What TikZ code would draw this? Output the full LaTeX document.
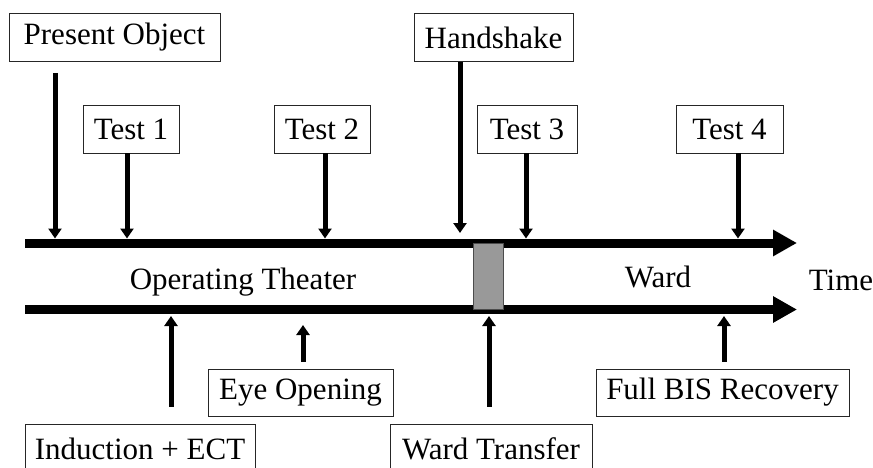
\documentclass[tikz,border=0pt]{standalone}
\usepackage{fontspec}
\setmainfont{Liberation Serif}
\usetikzlibrary{arrows.meta}
\begin{document}
\begin{tikzpicture}[x=1pt,y=-1pt,
  lbl/.style={draw=black!85,line width=0.9pt,fill=white,inner sep=0pt,
    minimum height=48pt,font=\fontsize{31}{36}\selectfont,anchor=center},
  txt/.style={inner sep=0pt,font=\fontsize{31}{36}\selectfont},
  bar/.style={line width=9pt,-{Triangle[length=24pt,width=25pt]}},
  arr/.style={line width=5pt,-{Triangle[length=10pt,width=13pt]}}]
\useasboundingbox (0,0) rectangle (873,468);
\begin{scope}
\clip (0,0) rectangle (873,468);
% timelines
\coordinate (as) at (25,243);
\coordinate (ae) at (797,243);
\coordinate (bs) at (25,309.5);
\coordinate (be) at (797,309.5);
\draw[bar] (as) -- (ae);
\draw[bar] (bs) -- (be);
\node[draw=black!70,line width=0.9pt,fill=black!40,minimum width=30pt,minimum height=66pt,inner sep=0pt] (gray) at (488,276) {};
% labels
\node[txt] (ot) at (243,282) {Operating Theater};
\node[txt] (ward) at (658,277) {Ward};
\node[txt] (time) at (841,280) {Time};
% top boxes
\node[lbl,minimum width=211pt] (po) at (114.5,37.5) {Present Object};
\node[lbl,minimum width=96pt] (t1) at (131,129) {Test 1};
\node[lbl,minimum width=96pt] (t2) at (322,129) {Test 2};
\node[lbl,minimum width=159pt] (hs) at (493.5,37.5) {Handshake};
\node[lbl,minimum width=100pt] (t3) at (527,129) {Test 3};
\node[lbl,minimum width=107pt] (t4) at (729.5,129) {Test 4};
% bottom boxes
\node[lbl,minimum width=230pt,minimum height=49pt] (ind) at (140,448.5) {Induction + ECT};
\node[lbl,minimum width=185pt,minimum height=47pt] (eo) at (300.5,392.5) {Eye Opening};
\node[lbl,minimum width=202pt,minimum height=49pt] (wt) at (491,448.5) {Ward Transfer};
\node[lbl,minimum width=253pt,minimum height=47pt] (fbr) at (722.5,392.5) {Full BIS Recovery};
% arrow targets
\coordinate (ppo) at (55,238.5);
\coordinate (pt1) at (127,238.5);
\coordinate (pt2) at (325,238.5);
\coordinate (phs) at (460,233);
\coordinate (pt3) at (526,238.5);
\coordinate (pt4) at (738,238.5);
\coordinate (pind) at (171,316);
\coordinate (peo) at (303,325);
\coordinate (pwt) at (489,316);
\coordinate (pfbr) at (724,316);
% arrows
\draw[arr,shorten <=11pt] (ppo |- po.south) -- (ppo);
\draw[arr] (pt1 |- t1.south) -- (pt1);
\draw[arr] (pt2 |- t2.south) -- (pt2);
\draw[arr] (phs |- hs.south) -- (phs);
\draw[arr] (pt3 |- t3.south) -- (pt3);
\draw[arr] (pt4 |- t4.south) -- (pt4);
\draw[arr,shorten <=17pt] (pind |- ind.north) -- (pind);
\draw[arr,shorten <=7pt] (peo |- eo.north) -- (peo);
\draw[arr,shorten <=17pt] (pwt |- wt.north) -- (pwt);
\draw[arr,shorten <=7pt] (pfbr |- fbr.north) -- (pfbr);
\end{scope}
\end{tikzpicture}
\end{document}
